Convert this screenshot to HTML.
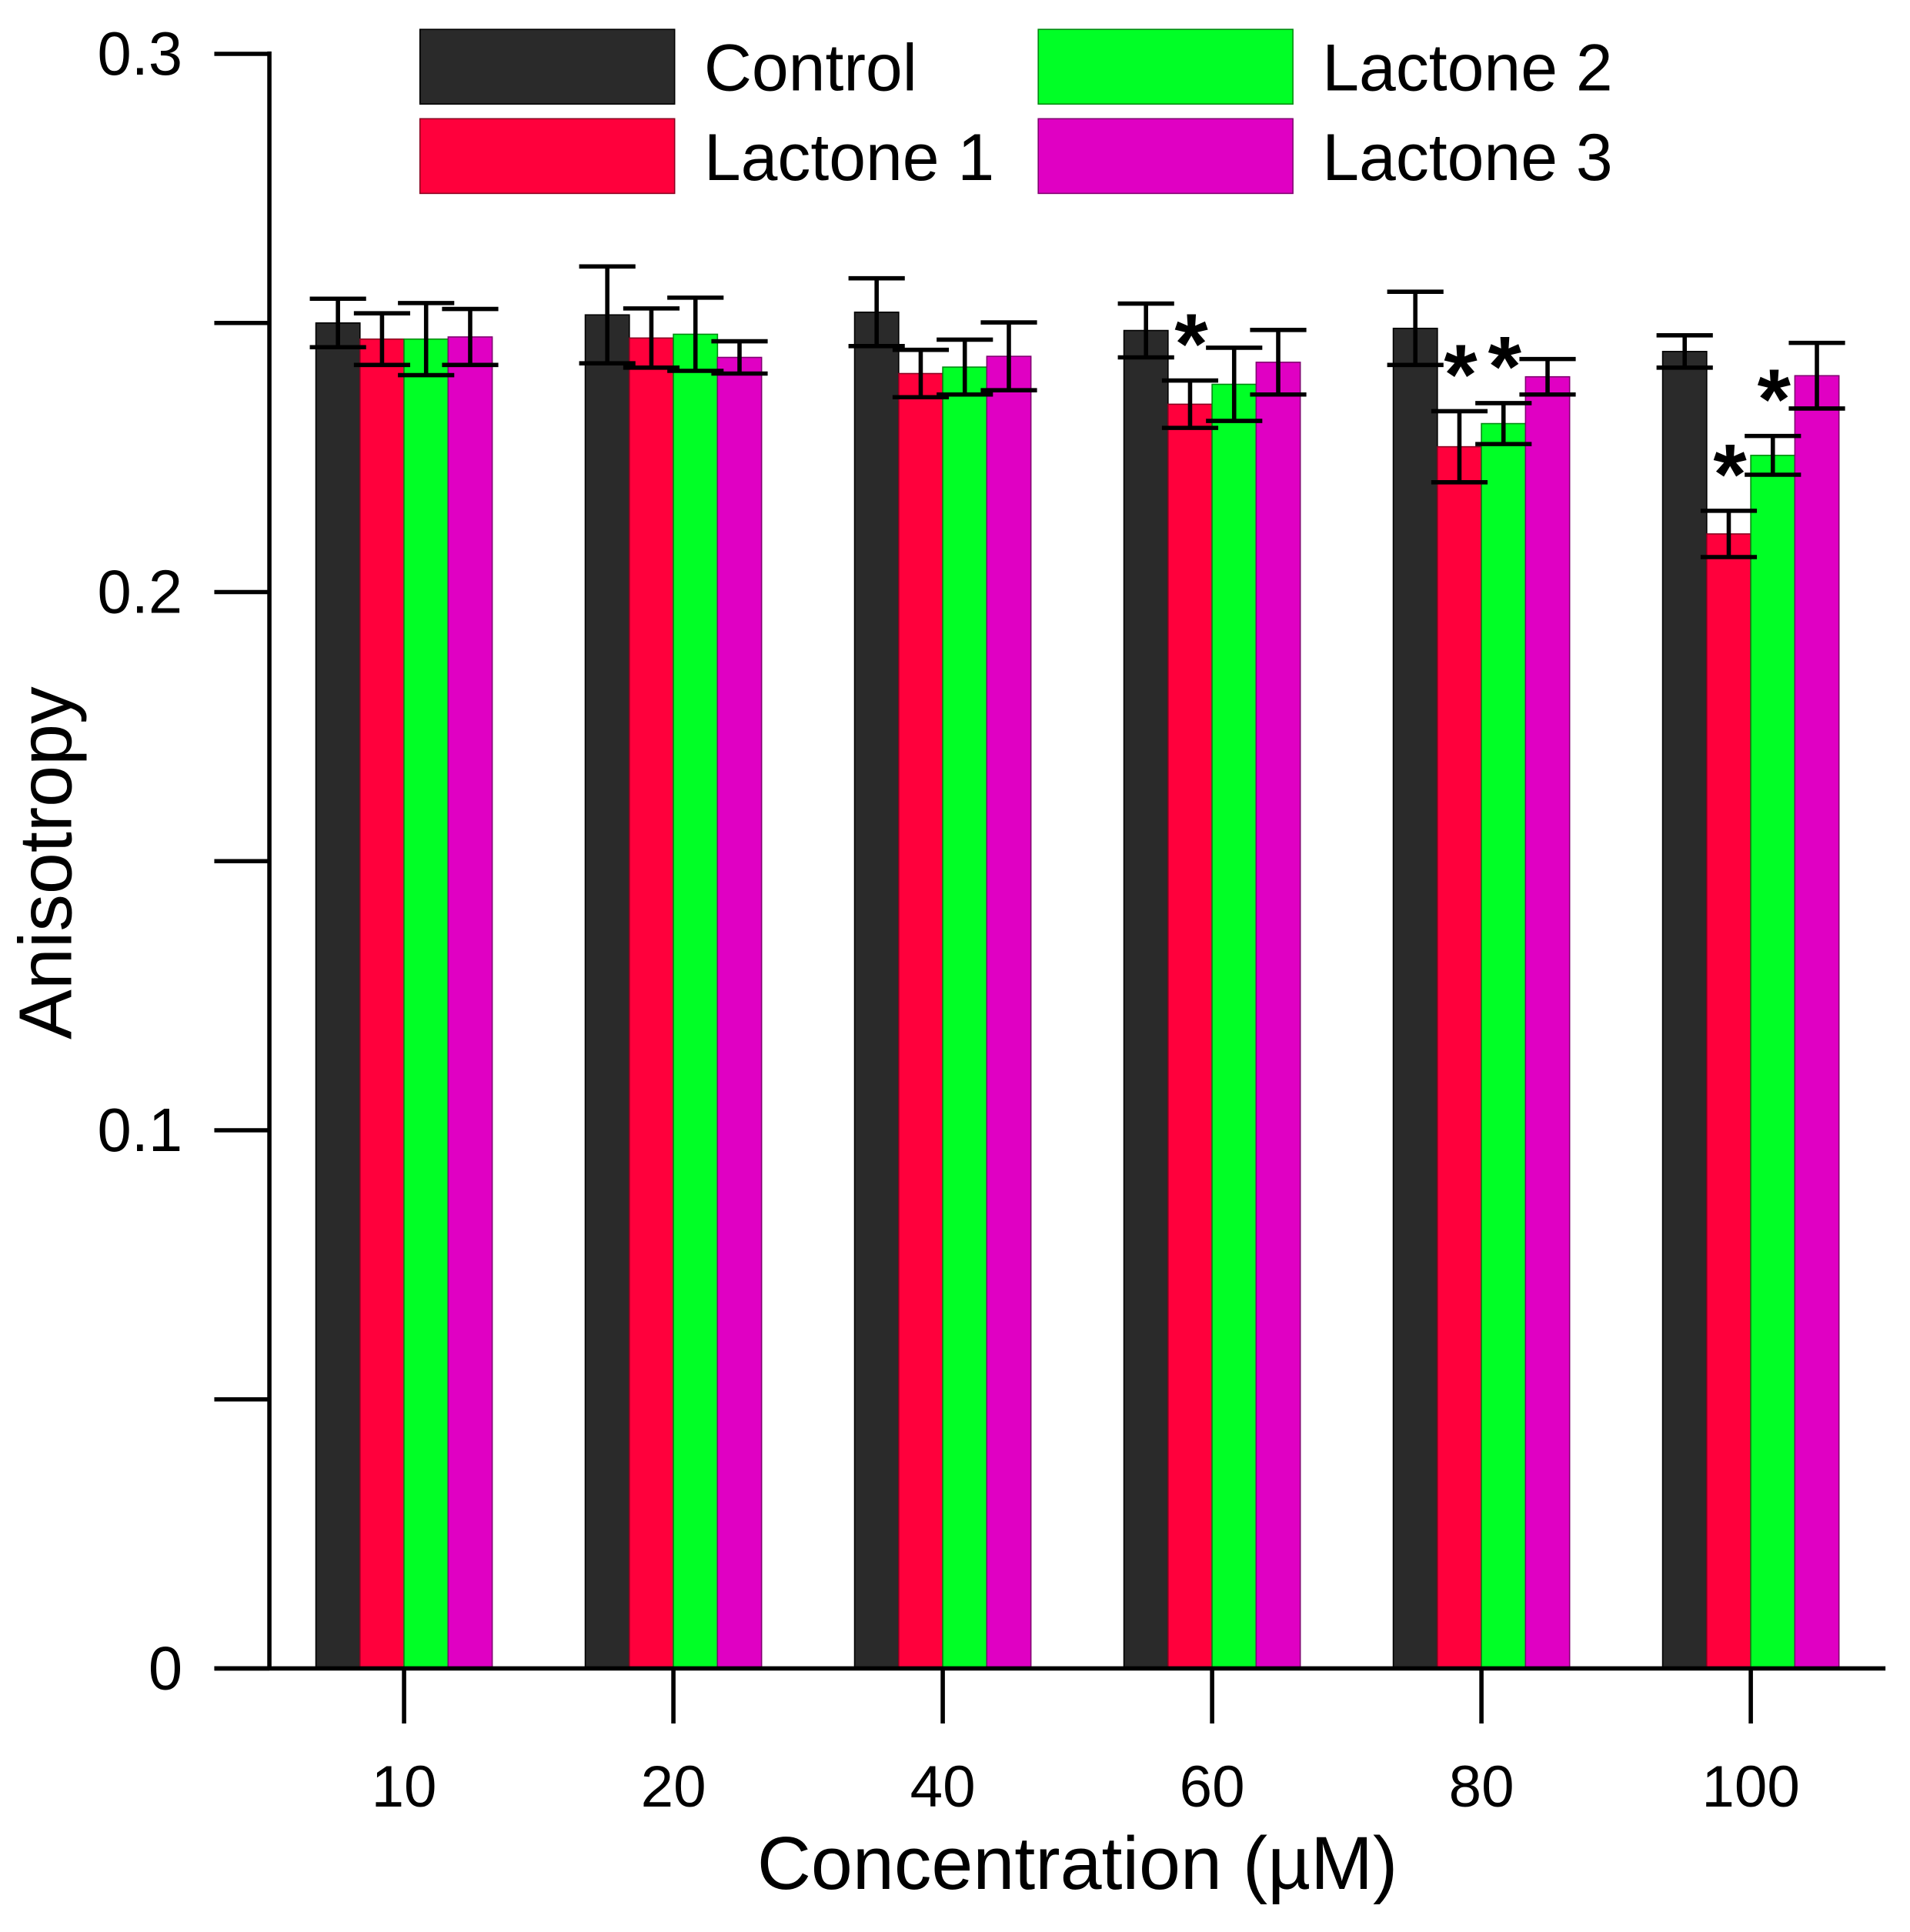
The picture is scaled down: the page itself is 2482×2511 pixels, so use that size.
<!DOCTYPE html>
<html><head><meta charset="utf-8"><style>
html,body{margin:0;padding:0;background:#fff}
svg{display:block}
text{font-family:"Liberation Sans",Arial,sans-serif;fill:#000}
</style></head><body>
<svg id="chart" width="2482" height="2511" viewBox="0 0 1560 1578.3" xmlns="http://www.w3.org/2000/svg">
<g id="plot"></g>
</svg>
<script>
const categories = ["10","20","40","60","80","100"];
const seriesNames = ["Control","Lactone 1","Lactone 2","Lactone 3"];
const controlVals = [0.2500,0.2515,0.2520,0.2486,0.2490,0.2447];
const lactone1Vals = [0.2470,0.2472,0.2406,0.2349,0.2270,0.2108];
const lactone2Vals = [0.2470,0.2479,0.2418,0.2386,0.2313,0.2254];
const lactone3Vals = [0.2474,0.2436,0.2438,0.2427,0.2400,0.2402];
const controlErr = [0.0045,0.0090,0.0063,0.0050,0.0068,0.0030];
const lactone1Err = [0.0048,0.0055,0.0044,0.0044,0.0066,0.0043];
const lactone2Err = [0.0067,0.0068,0.0051,0.0068,0.0038,0.0036];
const lactone3Err = [0.0052,0.0030,0.0063,0.0060,0.0033,0.0061];
const stars = [[3,1],[4,1],[4,2],[5,1],[5,2]];
const yTicks = [0,0.05,0.1,0.15,0.2,0.25,0.3];
const yTickLabels = ["0","","0.1","","0.2","","0.3"];

const colors = ["#2a2a2a","#ff003c","#00ff26","#e000c3"];
const strokes = ["#000","#8a0020","#008a10","#800070"];
const vals = [controlVals,lactone1Vals,lactone2Vals,lactone3Vals];
const errs = [controlErr,lactone1Err,lactone2Err,lactone3Err];
const NS="http://www.w3.org/2000/svg";
const g=document.getElementById('plot');
const y0=1363, ymax=44, vmax=0.3;
const yScale=v=>y0-(v/vmax)*(y0-ymax);
const xCenter=i=>330+220*i;
const bw=36;
function mk(t,a,p){const e=document.createElementNS(NS,t);for(const k in a)e.setAttribute(k,a[k]);(p||g).appendChild(e);return e;}

vals.forEach((arr,s)=>{
  arr.forEach((v,i)=>{
    const x=xCenter(i)-2*bw+s*bw;
    const r=mk('rect',{x:x,y:yScale(v),width:bw,height:y0-yScale(v),fill:colors[s],stroke:strokes[s],'stroke-width':1});
    
    
  });
});
vals.forEach((arr,s)=>{
  arr.forEach((v,i)=>{
    const cx=xCenter(i)-2*bw+s*bw+bw/2;
    const e=errs[s][i];
    const eg=mk('g',{stroke:'#000','stroke-width':3.5});
    
    
    const yt=yScale(v+e), yb=yScale(v-e);
    mk('line',{x1:cx,x2:cx,y1:yt,y2:yb},eg);
    mk('line',{x1:cx-23,x2:cx+23,y1:yt,y2:yt},eg);
    mk('line',{x1:cx-23,x2:cx+23,y1:yb,y2:yb},eg);
  });
});
stars.forEach(([i,s])=>{
  const cx=xCenter(i)-2*bw+s*bw+bw/2;
  const yt=yScale(vals[s][i]+errs[s][i]);
  const t=mk('text',{x:cx+1,y:yt-6,'font-size':70,'font-weight':'bold','text-anchor':'middle'});
  t.textContent='*';
  
  
});
const ax=mk('g',{stroke:'#000','stroke-width':3.5,fill:'none'});


mk('line',{x1:220,x2:220,y1:ymax-2,y2:y0},ax);
mk('line',{x1:175,x2:1540,y1:y0,y2:y0},ax);
yTicks.forEach((v,i)=>{
  mk('line',{x1:175,x2:220,y1:yScale(v),y2:yScale(v)},ax);
  if(yTickLabels[i]){
    const t=mk('text',{x:149,y:yScale(v)+17,'font-size':50,'text-anchor':'end'});
    t.textContent=yTickLabels[i];
    
    
  }
});
categories.forEach((c,i)=>{
  mk('line',{x1:xCenter(i),x2:xCenter(i),y1:y0,y2:y0+45},ax);
  const t=mk('text',{x:xCenter(i),y:1476,'font-size':48,'text-anchor':'middle'});
  t.textContent=c;
  
  
});
let t=mk('text',{x:880,y:1543,'font-size':61,'text-anchor':'middle'});
t.textContent='Concentration (µM)';


t=mk('text',{x:0,y:0,'font-size':61,'text-anchor':'middle',transform:'translate(58,705) rotate(-90)'});
t.textContent='Anisotropy';


const lpos=[[343,24],[343,97],[848,24],[848,97]];
seriesNames.forEach((n,s)=>{
  const lg=mk('g',{});
  
  
  mk('rect',{x:lpos[s][0],y:lpos[s][1],width:208,height:61,fill:colors[s],stroke:strokes[s],'stroke-width':1},lg);
  const tt=mk('text',{x:lpos[s][0]+232,y:lpos[s][1]+50,'font-size':54},lg);
  tt.textContent=n;
});
</script>
</body></html>
